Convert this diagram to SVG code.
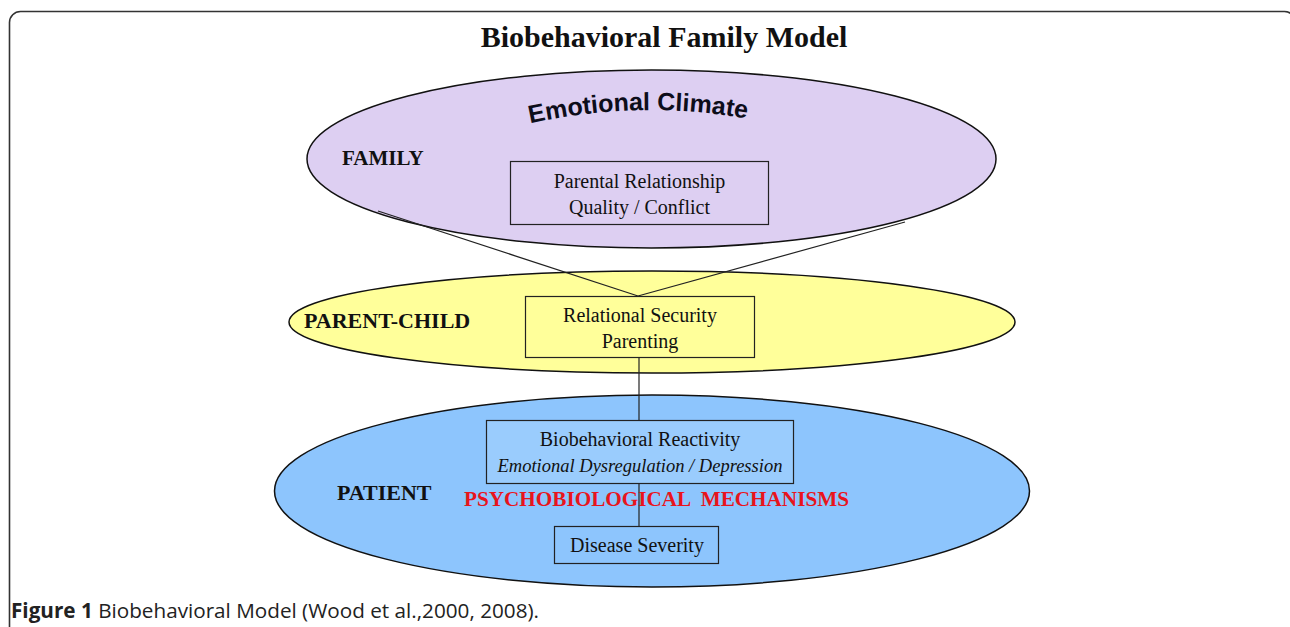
<svg xmlns="http://www.w3.org/2000/svg" width="1290" height="627" viewBox="0 0 1290 627">
<defs>
<style>
.lbl{font-family:"Liberation Serif","Times New Roman",serif;font-weight:bold;fill:#111;}
.box{stroke:#222;stroke-width:1.2;}
.bt{font-family:"Liberation Serif","Times New Roman",serif;font-size:20px;fill:#111;text-anchor:middle;}
.ell{stroke:#111;stroke-width:1.5;}
.con{stroke:#222;stroke-width:1.2;fill:none;}
</style>
<path id="arc" d="M 523,125 Q 640,98 754,120"/>
</defs>
<rect x="9.5" y="11.5" width="1286" height="700" rx="11" fill="#fff" stroke="#333" stroke-width="1.6"/>
<text x="664" y="47" text-anchor="middle" font-family="'Liberation Serif','Times New Roman',serif" font-weight="bold" font-size="30" fill="#111">Biobehavioral Family Model</text>

<g id="patient">
<ellipse class="ell" cx="652" cy="491" rx="377.5" ry="96" fill="#8DC5FD"/>
<text class="lbl" x="337" y="500" font-size="22">PATIENT</text>
</g>
<g id="parent-child">
<ellipse class="ell" cx="652" cy="322" rx="363" ry="51" fill="#FFFF9A"/>
<text class="lbl" x="304" y="328" font-size="22">PARENT-CHILD</text>
</g>
<g id="family">
<ellipse class="ell" cx="651.5" cy="159" rx="344.5" ry="89" fill="#DDCFF2"/>
<text class="lbl" x="342" y="165" font-size="21">FAMILY</text>
<text font-family="'Liberation Sans',Arial,sans-serif" font-weight="bold" font-size="25" fill="#0d0d1a"><textPath href="#arc" startOffset="50%" text-anchor="middle">Emotional Climate</textPath></text>
</g>

<g id="connectors">
<line class="con" x1="378" y1="211" x2="638" y2="296"/>
<line class="con" x1="905" y1="222" x2="638" y2="296"/>
<line class="con" x1="639" y1="357" x2="639" y2="420"/>
<line class="con" x1="639" y1="483" x2="639" y2="526"/>
</g>

<g id="parental-relationship">
<rect class="box" x="510.5" y="161.5" width="258" height="63" fill="#DDCFF2"/>
<text class="bt" x="639.5" y="188">Parental Relationship</text>
<text class="bt" x="639.5" y="214">Quality / Conflict</text>
</g>
<g id="relational-security">
<rect class="box" x="525.5" y="296.5" width="229" height="61" fill="#FFFF9A"/>
<text class="bt" x="640" y="322">Relational Security</text>
<text class="bt" x="640" y="348">Parenting</text>
</g>
<g id="biobehavioral-reactivity">
<rect class="box" x="486.5" y="420.5" width="307" height="63" fill="#9ACCFD"/>
<text class="bt" x="640" y="446">Biobehavioral Reactivity</text>
<text class="bt" x="640" y="472" font-style="italic" style="font-size:18.5px">Emotional Dysregulation / Depression</text>
</g>
<text id="mechanisms" class="lbl" x="464" y="506" font-size="21.2" style="fill:#E8141C" xml:space="preserve">PSYCHOBIOLOGICAL  MECHANISMS</text>
<g id="disease-severity">
<rect class="box" x="554.5" y="526.5" width="164" height="37" fill="#8DC5FD"/>
<text class="bt" x="637" y="552">Disease Severity</text>
</g>

<text x="11" y="618" font-family="'Open Sans','Liberation Sans',sans-serif" font-size="20.7" fill="#222"><tspan font-weight="bold">Figure 1</tspan> Biobehavioral Model (Wood et al.,2000, 2008).</text>
</svg>
